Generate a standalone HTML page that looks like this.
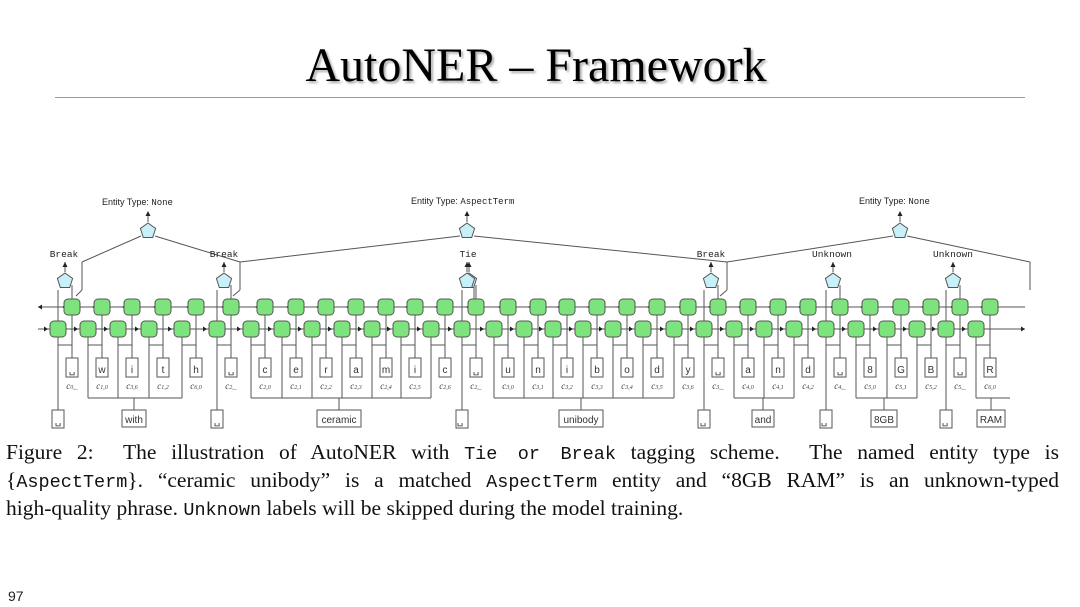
<!DOCTYPE html>
<html><head><meta charset="utf-8">
<style>
html,body{margin:0;padding:0;background:#fff;}
body{width:1080px;height:607px;position:relative;overflow:hidden;font-family:"Liberation Serif",serif;}
#title{position:absolute;left:0;width:1072px;top:38px;text-align:center;font-size:48px;color:#000;text-shadow:2px 2px 2px #aaa;}
#rule{position:absolute;left:55px;width:970px;top:97px;height:1px;background:#999;}
.cap{position:absolute;left:6px;width:1053px;font-size:21.5px;color:#111;white-space:nowrap;}
.j{text-align:justify;text-align-last:justify;white-space:normal;}
.m{font-family:"Liberation Mono",monospace;font-size:18.5px;}
#pg{position:absolute;left:8px;top:588px;font-family:"Liberation Sans",sans-serif;font-size:14px;color:#222;}
svg{position:absolute;left:0;top:0;}
</style></head><body>
<div id="title">AutoNER – Framework</div>
<div id="rule"></div>
<svg id="d" width="1080" height="440" viewBox="0 0 1080 440" font-family="Liberation Sans, sans-serif">
<g id="shapes"></g>
<g font-size="9" fill="#222">
<text x="102" y="205">Entity Type: <tspan font-family="Liberation Mono, monospace">None</tspan></text>
<text x="411" y="204">Entity Type: <tspan font-family="Liberation Mono, monospace">AspectTerm</tspan></text>
<text x="859" y="204">Entity Type: <tspan font-family="Liberation Mono, monospace">None</tspan></text>
</g>
<g font-size="9.5" fill="#222" font-family="Liberation Mono, monospace" text-anchor="middle">
<text x="64" y="257">Break</text>
<text x="224" y="257">Break</text>
<text x="468" y="257">Tie</text>
<text x="711" y="257">Break</text>
<text x="832" y="257">Unknown</text>
<text x="953" y="257">Unknown</text>
</g>
<g font-size="10" fill="#333" text-anchor="middle">
<text x="72" y="373">␣</text><text x="102" y="373">w</text><text x="132" y="373">i</text><text x="163" y="373">t</text><text x="196" y="373">h</text>
<text x="231" y="373">␣</text><text x="265" y="373">c</text><text x="296" y="373">e</text><text x="326" y="373">r</text><text x="356" y="373">a</text><text x="386" y="373">m</text><text x="415" y="373">i</text><text x="445" y="373">c</text>
<text x="476" y="373">␣</text><text x="508" y="373">u</text><text x="538" y="373">n</text><text x="567" y="373">i</text><text x="597" y="373">b</text><text x="627" y="373">o</text><text x="657" y="373">d</text><text x="688" y="373">y</text>
<text x="718" y="373">␣</text><text x="748" y="373">a</text><text x="778" y="373">n</text><text x="808" y="373">d</text>
<text x="840" y="373">␣</text><text x="870" y="373">8</text><text x="901" y="373">G</text><text x="931" y="373">B</text>
<text x="960" y="373">␣</text><text x="990" y="373">R</text>
</g>
<g font-size="9" fill="#444" font-family="Liberation Serif, serif" font-style="italic" text-anchor="middle">
<text x="72" y="389">c<tspan font-size="6">0,_</tspan></text>
<text x="102" y="389">c<tspan font-size="6">1,0</tspan></text>
<text x="132" y="389">c<tspan font-size="6">3,6</tspan></text>
<text x="163" y="389">c<tspan font-size="6">1,2</tspan></text>
<text x="196" y="389">c<tspan font-size="6">6,0</tspan></text>
<text x="231" y="389">c<tspan font-size="6">2,_</tspan></text>
<text x="265" y="389">c<tspan font-size="6">2,0</tspan></text>
<text x="296" y="389">c<tspan font-size="6">2,1</tspan></text>
<text x="326" y="389">c<tspan font-size="6">2,2</tspan></text>
<text x="356" y="389">c<tspan font-size="6">2,3</tspan></text>
<text x="386" y="389">c<tspan font-size="6">2,4</tspan></text>
<text x="415" y="389">c<tspan font-size="6">2,5</tspan></text>
<text x="445" y="389">c<tspan font-size="6">2,6</tspan></text>
<text x="476" y="389">c<tspan font-size="6">2,_</tspan></text>
<text x="508" y="389">c<tspan font-size="6">3,0</tspan></text>
<text x="538" y="389">c<tspan font-size="6">3,1</tspan></text>
<text x="567" y="389">c<tspan font-size="6">3,2</tspan></text>
<text x="597" y="389">c<tspan font-size="6">3,3</tspan></text>
<text x="627" y="389">c<tspan font-size="6">3,4</tspan></text>
<text x="657" y="389">c<tspan font-size="6">3,5</tspan></text>
<text x="688" y="389">c<tspan font-size="6">3,6</tspan></text>
<text x="718" y="389">c<tspan font-size="6">3,_</tspan></text>
<text x="748" y="389">c<tspan font-size="6">4,0</tspan></text>
<text x="778" y="389">c<tspan font-size="6">4,1</tspan></text>
<text x="808" y="389">c<tspan font-size="6">4,2</tspan></text>
<text x="840" y="389">c<tspan font-size="6">4,_</tspan></text>
<text x="870" y="389">c<tspan font-size="6">5,0</tspan></text>
<text x="901" y="389">c<tspan font-size="6">5,1</tspan></text>
<text x="931" y="389">c<tspan font-size="6">5,2</tspan></text>
<text x="960" y="389">c<tspan font-size="6">5,_</tspan></text>
<text x="990" y="389">c<tspan font-size="6">6,0</tspan></text>
</g>
<g font-size="10" fill="#333" text-anchor="middle">
<text x="134" y="423">with</text>
<text x="339" y="423">ceramic</text>
<text x="581" y="423">unibody</text>
<text x="763" y="423">and</text>
<text x="884" y="423">8GB</text>
<text x="991" y="423">RAM</text>
<text x="58" y="424">␣</text><text x="217" y="424">␣</text><text x="460" y="424">␣</text><text x="703" y="424">␣</text><text x="824" y="424">␣</text><text x="945" y="424">␣</text>
</g>
</svg>
<div class="cap j" style="top:440px;">Figure 2: &nbsp;The illustration of AutoNER with <span class="m">Tie or Break</span> tagging scheme. &nbsp;The named entity type is</div>
<div class="cap j" style="top:468px;">{<span class="m">AspectTerm</span>}. “ceramic unibody” is a matched <span class="m">AspectTerm</span> entity and “8GB RAM” is an unknown-typed</div>
<div class="cap" style="top:496px;">high-quality phrase. <span class="m">Unknown</span> labels will be skipped during the model training.</div>
<div id="pg">97</div>
<script>
(function(){
var X=[72,102,132,163,196,231,265,296,326,356,386,415,445,476,508,538,567,597,627,657,688,718,748,778,808,840,870,901,931,960,990];
var sp=[0,5,13,21,25,29];
var groups=[[1,4,134],[6,12,339],[14,20,581],[22,24,763],[26,28,884],[30,30,991]];
var wbw={134:24,339:44,581:44,763:22,884:26,991:28};
var s='';var st='stroke="#555" stroke-width="1" fill="none"';
function L(a,b,c,d){s+='<line x1="'+a+'" y1="'+b+'" x2="'+c+'" y2="'+d+'" '+st+'/>';}
function R(x,y,w,h,f,r){s+='<rect x="'+x+'" y="'+y+'" width="'+w+'" height="'+h+'" rx="'+(r||0)+'" fill="'+f+'" stroke="#555" stroke-width="1"/>';}
function arrow(x,y,dir){s+='<polygon points="'+x+','+y+' '+(x-4*dir)+','+(y-2.5)+' '+(x-4*dir)+','+(y+2.5)+'" fill="#222"/>';}
function pent(cx,cy){var p=[];for(var k=0;k<5;k++){var a=-Math.PI/2+k*2*Math.PI/5;p.push((cx+8*Math.cos(a)).toFixed(1)+','+(cy+8*Math.sin(a)+1).toFixed(1));}s+='<polygon points="'+p.join(' ')+'" fill="#c8f0f8" stroke="#555" stroke-width="1"/>';}
L(38,307,1025,307);L(38,329,1025,329);
arrow(38,307,-1);arrow(1025,329,1);
for(var i=0;i<31;i++){var xt=X[i],xb=X[i]-15;
 arrow(xt-10,307,-1);arrow(xb-9,329,1);
}
for(var i=0;i<31;i++){var xt=X[i],xb=X[i]-14;var isS=sp.indexOf(i)>=0;
 L(xt,300,xt,358);
 L(xb,329,xb,345);L(xb,345,xt,345);
 if(isS){L(xb,290,xb,410);L(xt,290,xt,300);}
 else{L(xb,345,xb,398);}
 R(xt-6,358,12,19,'#fff',0);
}
groups.forEach(function(g){var a=X[g[0]]-14,b=X[g[1]]-14;
 if(g[0]==g[1]){L(a,398,X[g[1]]+20,398);}else L(a,398,b,398);
 L(g[2],398,g[2],410);var w=wbw[g[2]];R(g[2]-w/2,410,w,17,'#fff',0);
});
sp.forEach(function(i){var xb=X[i]-14;R(xb-6,410,12,18,'#fff',0);});
var PX={};sp.forEach(function(i){var cx=X[i]-7;PX[i]=cx;L(cx,262,cx,272);s+='<polygon points="'+cx+',262 '+(cx-2.5)+',267 '+(cx+2.5)+',267" fill="#222"/>';});
function parent(cx,lx,rx){L(cx,212,cx,222);s+='<polygon points="'+cx+',211 '+(cx-2.5)+',216 '+(cx+2.5)+',216" fill="#222"/>';
 L(cx-7,236,lx,262);L(lx,262,lx,290);L(cx+7,236,rx,262);L(rx,262,rx,290);}
parent(148,82,240);
parent(467,240,727);
parent(900,727,1030);
L(82,290,76,296);L(240,290,233,296);L(727,290,720,296);L(1030,262,1030,290);
sp.forEach(function(i){L(PX[i]+7,285,PX[i]+7,300);pent(PX[i],280);});
pent(467,280);L(467,262,467,272);s+='<polygon points="467,262 464.5,267 469.5,267" fill="#222"/>';L(474,287,474,300);
pent(148,230);pent(467,230);pent(900,230);
for(var i=0;i<31;i++){R(X[i]-8,299,16,16,'#7de37d',4);R(X[i]-14-8,321,16,16,'#7de37d',4);}
document.getElementById('shapes').innerHTML=s;
})();
</script>
</body></html>
